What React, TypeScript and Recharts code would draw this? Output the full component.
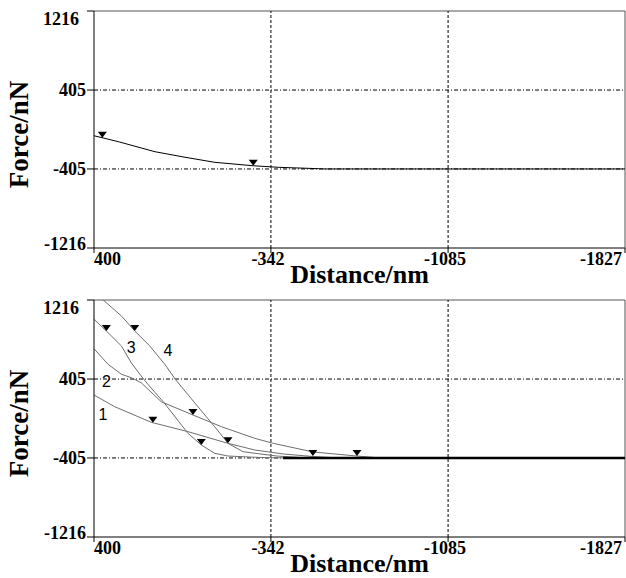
import { ComposedChart, Line, Scatter, XAxis, YAxis, ReferenceLine, ReferenceDot, Label } from 'recharts'

const distanceTicks = [400, -342, -1085, -1827]
const forceTicks = [1216, 405, -405, -1216]

// upper panel: single approach curve
const approachDistance = [400, 298, 144, 18, -107, -268, -373, -541, -570, -1827]
const approachForce = [-64, -125, -228, -285, -337, -372, -388, -402, -405, -405]
const approachMarkDistance = [365, -268]
const approachMarkForce = [-85, -372]

// lower panel: curves 1..4 (grey) + common baseline
const curve1Distance = [400, 313, 160, 6, -162, -274, -394, -518, -632]
const curve1Force = [241, 121, -39, -135, -255, -323, -364, -390, -405]
const curve2Distance = [400, 341, 285, 244, 202, 118, -15, -134, -274, -352, -520, -703, -800]
const curve2Force = [716, 556, 454, 419, 367, 172, 36, -84, -203, -255, -344, -385, -405]
const curve3Distance = [400, 348, 285, 244, 202, 174, 104, 6, -50, -106, -162, -296, -422]
const curve3Force = [1018, 898, 744, 573, 436, 351, 156, -152, -272, -357, -385, -400, -405]
const curve4Distance = [400, 358, 285, 229, 166, 103, 59, -23, -106, -162, -225, -366, -464, -500]
const curve4Force = [1298, 1209, 1052, 898, 744, 556, 402, 159, -84, -255, -341, -385, -400, -405]
const baselineDistance = [-393, -1827]
const baselineForce = [-405, -405]

const markDistance = [153, -518, -15, -703, 348, -50, 229, -162]
const markForce = [-43, -385, 36, -385, 898, -272, 898, -255]

const curveNames = ['1', '2', '3', '4']
const curveNameDistance = [362, 348, 244, 90]
const curveNameForce = [36, 374, 727, 693]

const toPoints = (xs: number[], fs: number[]) => xs.map((x, i) => ({ x, f: fs[i] }))

const serif = '"Liberation Serif", "Times New Roman", serif'
const W = 626
const PLOT_H = 237
const PLOT_LEFT = 94
const PLOT_RIGHT = 625

function XTick({ x, y, payload }: any) {
  const v = payload.value
  let anchor = 'middle'
  let dx = -3
  if (v === distanceTicks[0]) { anchor = 'start'; dx = 0 }
  if (v === distanceTicks[distanceTicks.length - 1]) { anchor = 'end'; dx = -3 }
  return (
    <text x={x + dx} y={y} dy={10} textAnchor={anchor} fontFamily={serif} fontWeight="bold" fontSize={18} fill="#000">
      {v}
    </text>
  )
}

function YTick({ x, y, payload }: any) {
  const v = payload.value
  let dy = 6
  let dx = 0
  if (v === forceTicks[0]) { dy = 14; dx = -7 }
  if (v === forceTicks[forceTicks.length - 1]) dy = 2
  return (
    <text x={x + dx} y={y} dy={dy} textAnchor="end" fontFamily={serif} fontWeight="bold" fontSize={18} fill="#000">
      {v}
    </text>
  )
}

const Triangle = (p: any) => (
  <path d={`M${p.cx - 4.5},${p.cy - 6}L${p.cx + 4.5},${p.cy - 6}L${p.cx},${p.cy}Z`} fill="#000" />
)

function Panel({ top, height, marginTop, children }: any) {
  const plotTop = marginTop
  const plotBottom = marginTop + PLOT_H
  const cx = (PLOT_LEFT + PLOT_RIGHT) / 2
  const cy = plotTop + PLOT_H / 2 + 5
  return (
    <div style={{ position: 'absolute', left: 0, top }}>
      <ComposedChart width={W} height={height} margin={{ top: marginTop, right: W - PLOT_RIGHT, bottom: 0, left: 0 }}>
        <XAxis
          type="number"
          dataKey="x"
          domain={[-1827, 400]}
          reversed
          ticks={distanceTicks}
          interval={0}
          allowDataOverflow
          height={height - marginTop - PLOT_H}
          tick={(p: any) => <XTick {...p} />}
          tickSize={5}
          tickMargin={2}
          axisLine={{ stroke: '#000' }}
          tickLine={{ stroke: '#000' }}
        >
          <Label
            content={() => (
              <text x={cx} y={plotBottom + 35} textAnchor="middle" fontFamily={serif} fontWeight="bold" fontSize={26} fill="#000">
                Distance/nm
              </text>
            )}
          />
        </XAxis>
        <YAxis
          type="number"
          dataKey="f"
          domain={[-1216, 1216]}
          ticks={forceTicks}
          interval={0}
          allowDataOverflow
          width={PLOT_LEFT}
          tick={(p: any) => <YTick {...p} />}
          tickSize={7}
          tickMargin={1}
          axisLine={{ stroke: '#000' }}
          tickLine={{ stroke: '#000' }}
        >
          <Label
            content={() => (
              <text x={28} y={cy} transform={`rotate(-90 28 ${cy})`} textAnchor="middle" fontFamily={serif} fontWeight="bold" fontSize={27} fill="#000">
                Force/nN
              </text>
            )}
          />
        </YAxis>
        <ReferenceLine y={1216} stroke="#555" />
        <ReferenceLine x={-1827} stroke="#555" />
        <ReferenceLine y={405} stroke="#000" strokeDasharray="4 2 1 2" />
        <ReferenceLine y={-405} stroke="#000" strokeDasharray="4 2 1 2" />
        <ReferenceLine x={-342} stroke="#000" strokeDasharray="3 2" />
        <ReferenceLine x={-1085} stroke="#000" strokeDasharray="3 2" />
        {children}
      </ComposedChart>
    </div>
  )
}

export default function App() {
  const approach = toPoints(approachDistance, approachForce)
  const approachMarks = toPoints(approachMarkDistance, approachMarkForce)
  const curves = [
    toPoints(curve1Distance, curve1Force),
    toPoints(curve2Distance, curve2Force),
    toPoints(curve3Distance, curve3Force),
    toPoints(curve4Distance, curve4Force),
  ]
  const baseline = toPoints(baselineDistance, baselineForce)
  const marks = toPoints(markDistance, markForce)

  return (
    <div style={{ position: 'absolute', left: 0, top: 0, width: W, height: 578, background: '#fff', overflow: 'hidden' }}>
      <Panel top={0} height={296} marginTop={11}>
        <Line data={approach} dataKey="f" type="linear" stroke="#000" strokeWidth={1} dot={false} isAnimationActive={false} />
        <Scatter data={approachMarks} dataKey="f" shape={Triangle} isAnimationActive={false} />
      </Panel>
      <Panel top={290} height={288} marginTop={10}>
        {curves.map((c, i) => (
          <Line key={`curve-${i}`} data={c} dataKey="f" type="linear" stroke="#6e6e6e" strokeWidth={1} dot={false} isAnimationActive={false} />
        ))}
        <Line data={baseline} dataKey="f" type="linear" stroke="#000" strokeWidth={2.5} dot={false} isAnimationActive={false} />
        <Scatter data={marks} dataKey="f" shape={Triangle} isAnimationActive={false} />
        {curveNames.map((n, i) => (
          <ReferenceDot
            key={`name-${n}`}
            x={curveNameDistance[i]}
            y={curveNameForce[i]}
            r={0}
            shape={(p: any) => (
              <text x={p.cx} y={p.cy} dy={5} textAnchor="middle" fontFamily='"Liberation Sans", Arial, sans-serif' fontSize={16} fill="#000">
                {n}
              </text>
            )}
          />
        ))}
      </Panel>
    </div>
  )
}
